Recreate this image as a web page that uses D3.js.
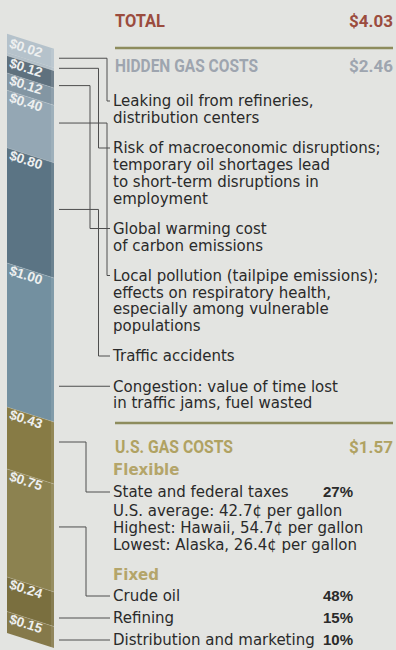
<!DOCTYPE html>
<html><head><meta charset="utf-8">
<script src="https://cdn.jsdelivr.net/npm/d3@7"></script>
<style>html,body{margin:0;padding:0;background:#e3e4e1;} svg{display:block}</style>
</head><body>
<script>
// ---------- DATA ----------
const sectionTitles = ["TOTAL", "HIDDEN GAS COSTS", "U.S. GAS COSTS"];
const sectionTotals = ["$4.03", "$2.46", "$1.57"];

const hiddenValues = [0.02, 0.12, 0.12, 0.40, 0.80, 1.00];
const hiddenValueLabels = ["$0.02", "$0.12", "$0.12", "$0.40", "$0.80", "$1.00"];
const hiddenItems = [
  ["Leaking oil from refineries,", "distribution centers"],
  ["Risk of macroeconomic disruptions;", "temporary oil shortages lead", "to short-term disruptions in", "employment"],
  ["Global warming cost", "of carbon emissions"],
  ["Local pollution (tailpipe emissions);", "effects on respiratory health,", "especially among vulnerable", "populations"],
  ["Traffic accidents"],
  ["Congestion: value of time lost", "in traffic jams, fuel wasted"]
];

const usValues = [0.43, 0.75, 0.24, 0.15];
const usValueLabels = ["$0.43", "$0.75", "$0.24", "$0.15"];
const usItems = ["State and federal taxes", "Crude oil", "Refining", "Distribution and marketing"];
const usShares = ["27%", "48%", "15%", "10%"];
const usGroups = ["Flexible", "Fixed", "Fixed", "Fixed"];
const taxNotes = ["U.S. average: 42.7\u00a2 per gallon", "Highest: Hawaii, 54.7\u00a2 per gallon", "Lowest: Alaska, 26.4\u00a2 per gallon"];

// ---------- STYLE ----------
const W = 396, H = 650;
const hiddenColors = ["#b3c0c9", "#5f717e", "#8396a3", "#94a7b4", "#5b7484", "#7390a0"];
const usColors = ["#877b45", "#8c8250", "#7a6f3f", "#85794a"];
const bodyFont = "'DejaVu Sans', 'Open Sans', sans-serif";
const headFont = "Roboto, 'Liberation Sans', sans-serif";

const svg = d3.select("body").append("svg").attr("width", W).attr("height", H);
svg.append("rect").attr("width", W).attr("height", H).attr("fill", "#e3e4e1");

// ---------- BAR ----------
const allValues = hiddenValues.concat(usValues);
const allLabels = hiddenValueLabels.concat(usValueLabels);
const allColors = hiddenColors.concat(usColors);
const total = d3.sum(allValues);
const ends = Array.from(d3.cumsum(allValues));
const starts = [0].concat(ends.slice(0, -1));

const x0 = 7, x1 = 54, slant = 15;
const y = d3.scaleLinear().domain([0, total]).range([52.8, 52.8 + total * 144]);

const segs = allValues.map((v, i) => ({v, s: starts[i], e: ends[i], label: allLabels[i], color: allColors[i], i}));

// top face cap
svg.append("path")
  .attr("d", `M${x0},${y(0) - 19} L${x1},${y(0) - 19 + slant} L${x1},${y(0) + slant} L${x0},${y(0)} Z`)
  .attr("fill", "#b5c2cb");

svg.selectAll("path.seg").data(segs).enter().append("path")
  .attr("class", "seg")
  .attr("d", d => `M${x0},${y(d.s)} L${x1},${y(d.s) + slant} L${x1},${y(d.e) + slant} L${x0},${y(d.e)} Z`)
  .attr("fill", d => d.color);

svg.selectAll("path.edge").data(segs.slice(1)).enter().append("path")
  .attr("class", "edge")
  .attr("d", d => `M${x0},${y(d.s)} L${x1},${y(d.s) + slant}`)
  .attr("stroke", "rgba(255,255,255,0.18)").attr("stroke-width", 1).attr("fill", "none");

svg.append("rect").attr("x", x1 - 3).attr("y", y(0) - 19 + slant).attr("width", 3)
  .attr("height", y(total) - y(0) + 19).attr("fill", "rgba(255,255,255,0.10)");

const angle = Math.atan2(slant, x1 - x0) * 180 / Math.PI;
svg.selectAll("text.val").data(segs).enter().append("text")
  .attr("class", "val")
  .attr("transform", d => {
    const top = y(d.s);
    const cy = (y(d.e) - y(d.s) < 10) ? top - 5 : top + 12;
    return `translate(26,${cy}) rotate(${angle})`;
  })
  .attr("dy", "0.35em")
  .attr("text-anchor", "middle")
  .attr("font-family", "'Liberation Sans', Arial, sans-serif")
  .attr("font-weight", "bold")
  .attr("font-size", 13.5)
  .attr("fill", "#eef0f0")
  .text(d => d.label);

// ---------- TEXT PANEL ----------
const hx = 115, tx = 113, rx = 393;

function header(title, totalTxt, cy, color, len) {
  svg.append("text").attr("x", hx).attr("y", cy + 6.5)
    .attr("font-family", headFont).attr("font-weight", "bold").attr("font-size", 18)
    .attr("fill", color).attr("textLength", len).attr("lengthAdjust", "spacingAndGlyphs").text(title);
  svg.append("text").attr("x", rx).attr("y", cy + 6.5).attr("text-anchor", "end")
    .attr("font-family", headFont).attr("font-weight", "bold").attr("font-size", 17)
    .attr("fill", color).text(totalTxt);
}
function rule(yy) {
  svg.append("line").attr("x1", hx).attr("x2", rx).attr("y1", yy).attr("y2", yy)
    .attr("stroke", "#8d8c5d").attr("stroke-width", 2.5);
}
function body(txt, cy, opts = {}) {
  return svg.append("text").attr("x", opts.x || tx).attr("y", cy + 5.3)
    .attr("font-family", opts.font || bodyFont).attr("font-size", opts.size || 15)
    .attr("font-weight", opts.weight || "normal")
    .attr("text-anchor", opts.anchor || "start")
    .attr("fill", opts.color || "#2a2a2a").text(txt);
}

header(sectionTitles[0], sectionTotals[0], 20, "#9b4c3e", 50);
rule(48);
header(sectionTitles[1], sectionTotals[1], 65, "#9ea5af", 143);
rule(423);
header(sectionTitles[2], sectionTotals[2], 446, "#b0a262", 118);

// hidden items text layout
const lh = 16.75, gap = 13.5;
let cur = 101;
const hiddenTextY = [];
hiddenItems.forEach(lines => {
  hiddenTextY.push(cur);
  lines.forEach((l, j) => body(l, cur + j * lh));
  cur += lines.length * lh + gap;
});

// US text layout
body(usGroups[0], 470, {weight: "bold", color: "#b4a56a"});
const usTextY = [492, 596, 618, 640];
body(usItems[0], usTextY[0]);
taxNotes.forEach((t, j) => body(t, 511 + j * lh));
body(usGroups[1], 575, {weight: "bold", color: "#b4a56a"});
usItems.slice(1).forEach((t, j) => body(t, usTextY[j + 1]));
usShares.forEach((p, j) => body(p, usTextY[j], {x: 353, anchor: "end", weight: "bold", font: "'Liberation Sans', Arial, sans-serif", size: 15}));

// ---------- LEADERS ----------
function leaders(segList, textYs, laneBase, laneStep) {
  const lanes = [];
  segList.forEach((d, i) => {
    const tY = textYs[i];
    const top = y(d.s), bot = y(d.e) + slant;
    let path;
    if (tY >= top + 3 && tY <= bot - 3) {
      path = `M${x1 + 5},${tY} H${tx - 3}`;
    } else {
      const aY = (y(d.s) + y(d.e)) / 2 + 4;
      const lo = Math.min(aY, tY), hi = Math.max(aY, tY);
      let lane = 0;
      while (lanes[lane] !== undefined && lanes[lane] > lo - 2) lane++;
      lanes[lane] = hi;
      const ex = laneBase - lane * laneStep;
      path = `M${x1 + 5},${aY} H${ex} V${tY} H${tx - 3}`;
    }
    svg.append("path").attr("d", path).attr("fill", "none")
      .attr("stroke", "#4e4e4e").attr("stroke-width", 1);
  });
}
leaders(segs.slice(0, hiddenValues.length), hiddenTextY, 107, 8.5);
leaders(segs.slice(hiddenValues.length), usTextY, 86, 8);
</script>
</body></html>
